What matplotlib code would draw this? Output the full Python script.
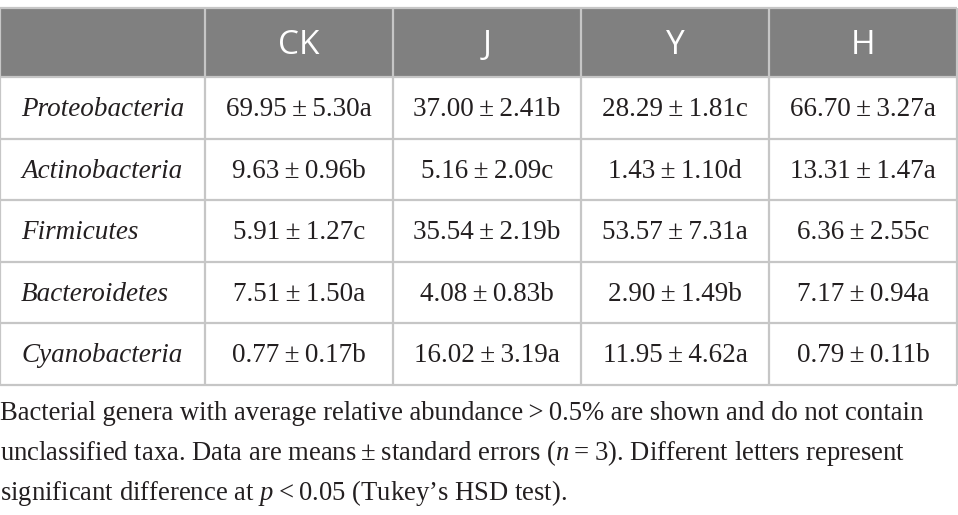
import matplotlib
matplotlib.use("Agg")
import matplotlib.pyplot as plt
from matplotlib.patches import Rectangle

groups = ["CK", "J", "Y", "H"]
phyla = ["Proteobacteria", "Actinobacteria", "Firmicutes", "Bacteroidetes", "Cyanobacteria"]
means = [
    [69.95, 37.00, 28.29, 66.70],
    [9.63, 5.16, 1.43, 13.31],
    [5.91, 35.54, 53.57, 6.36],
    [7.51, 4.08, 2.90, 7.17],
    [0.77, 16.02, 11.95, 0.79],
]
ses = [
    [5.30, 2.41, 1.81, 3.27],
    [0.96, 2.09, 1.10, 1.47],
    [1.27, 2.19, 7.31, 2.55],
    [1.50, 0.83, 1.49, 0.94],
    [0.17, 3.19, 4.62, 0.11],
]
letters = [
    ["a", "b", "c", "a"],
    ["b", "c", "d", "a"],
    ["c", "b", "a", "c"],
    ["a", "b", "b", "a"],
    ["b", "a", "a", "b"],
]
caption = [
    "Bacterial genera with average relative abundance\u2009>\u20090.5% are shown and do not contain",
    "unclassified taxa. Data are means\u2009\u00b1\u2009standard errors ($\\it{n}$\u2009=\u20093). Different letters represent",
    "significant difference at $\\it{p}$\u2009<\u20090.05 (Tukey\u2019s HSD test).",
]

plt.rcParams["mathtext.fontset"] = "custom"
plt.rcParams["mathtext.it"] = "Liberation Serif:italic"
plt.rcParams["mathtext.rm"] = "Liberation Serif"

W, H = 958, 515
fig = plt.figure(figsize=(W / 100, H / 100), dpi=100)
ax = fig.add_axes([0, 0, 1, 1])
ax.set_xlim(0, W)
ax.set_ylim(H, 0)
ax.axis("off")

col_x = [0, 205, 393, 581, 769, 957.5]
row_y = [8, 77, 138.5, 200, 261.5, 323, 384.5]
grid = "#c6c6c6"
hdr_fill = "#808080"
txt = "#231f20"
serif = ["Liberation Serif", "DejaVu Serif"]

ax.add_patch(Rectangle((col_x[0], row_y[0]), col_x[-1] - col_x[0], row_y[1] - row_y[0],
                       facecolor=hdr_fill, edgecolor="none", zorder=1))
for y in row_y:
    ax.plot([col_x[0], col_x[-1]], [y, y], color=grid, lw=1.6, zorder=2, solid_capstyle="butt")
for x in col_x:
    ax.plot([x, x], [row_y[0], row_y[-1]], color=grid, lw=1.6, zorder=2, solid_capstyle="butt")

for j, g in enumerate(groups):
    cx = (col_x[j + 1] + col_x[j + 2]) / 2
    ax.text(cx, (row_y[0] + row_y[1]) / 2 + 3, g, ha="center", va="center",
            color="white", fontsize=24, family=["Open Sans", "DejaVu Sans"], zorder=3)

for i, p in enumerate(phyla):
    cy = (row_y[i + 1] + row_y[i + 2]) / 2 + 2
    ax.text(21, cy, p, ha="left", va="center", color=txt, fontsize=19.5,
            family=serif, style="italic", zorder=3)
    for j in range(len(groups)):
        cx = (col_x[j + 1] + col_x[j + 2]) / 2
        s = f"{means[i][j]:.2f}\u2009\u00b1\u2009{ses[i][j]:.2f}{letters[i][j]}"
        ax.text(cx, cy, s, ha="center", va="center", color=txt, fontsize=19.5,
                family=serif, zorder=3)

for k, line in enumerate(caption):
    ax.text(0, 414 + k * 39.5, line, ha="left", va="center", color=txt, fontsize=19.2,
            family=serif, zorder=3)

fig.savefig("out.png", dpi=100)
